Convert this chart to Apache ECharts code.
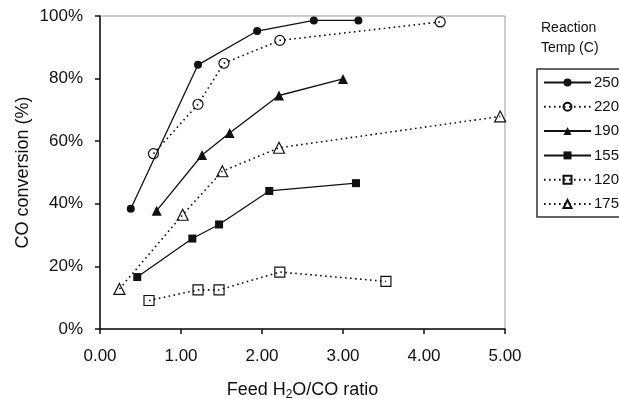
<!DOCTYPE html>
<html>
<head>
<meta charset="utf-8">
<script src="https://cdn.jsdelivr.net/npm/echarts@6/dist/echarts.min.js"></script>
<style>
html,body{margin:0;padding:0;background:#fff;}
#chart{width:619px;height:399px;}
</style>
</head>
<body>
<div id="chart"></div>
<script>
// Data
var seriesNames = ['250', '220', '190', '155', '120', '175'];
var s250 = [[0.38, 38.4], [1.21, 84.4], [1.94, 95.2], [2.64, 98.6], [3.19, 98.6]];
var s220 = [[0.66, 56.0], [1.21, 71.8], [1.53, 84.9], [2.22, 92.2], [4.20, 98.1]];
var s190 = [[0.70, 37.8], [1.26, 55.6], [1.60, 62.6], [2.21, 74.6], [3.00, 79.9]];
var s155 = [[0.46, 16.6], [1.14, 28.9], [1.47, 33.4], [2.09, 44.1], [3.16, 46.6]];
var s120 = [[0.605, 9.1], [1.21, 12.5], [1.47, 12.5], [2.22, 18.2], [3.53, 15.2]];
var s175 = [[0.24, 12.8], [1.02, 36.5], [1.51, 50.4], [2.21, 57.9], [4.94, 67.9]];
var xTicks = [0, 1, 2, 3, 4, 5];
var yTicks = [0, 20, 40, 60, 80, 100];

var FONT = 'Liberation Sans, Arial, Helvetica, sans-serif';
var INK = '#111';
var DOT = [1.6, 3.4];

function mk(name, data, symbol, size, filled, dotted) {
  return {
    name: name,
    type: 'line',
    data: data,
    symbol: symbol,
    symbolSize: size,
    showSymbol: true,
    z: 3,
    lineStyle: { color: INK, width: dotted ? 1.6 : 1.3, type: dotted ? DOT : 'solid' },
    itemStyle: {
      color: filled ? INK : 'rgba(255,255,255,0)',
      borderColor: INK,
      borderWidth: filled ? 0 : 1.2
    },
    emphasis: { disabled: true },
    animation: false
  };
}

var chart = echarts.init(document.getElementById('chart'), null, { renderer: 'canvas' });
chart.setOption({
  backgroundColor: '#fff',
  animation: false,
  textStyle: { fontFamily: FONT },
  title: {
    text: 'Reaction\nTemp (C)',
    left: 541, top: 18,
    padding: 0,
    textStyle: { fontFamily: FONT, fontSize: 14, fontWeight: 'normal', color: INK, lineHeight: 20 }
  },
  legend: {
    orient: 'vertical',
    left: 543, top: 75,
    padding: 0,
    itemWidth: 47, itemHeight: 10,
    itemGap: 9.3,
    data: seriesNames,
    selectedMode: false,
    textStyle: { fontFamily: FONT, fontSize: 15, color: INK, padding: [0, 0, 0, -2] }
  },
  graphic: [{
    type: 'rect',
    shape: { x: 537, y: 69, width: 100, height: 148 },
    style: { fill: 'none', stroke: '#333', lineWidth: 1.5 },
    silent: true, z: 1
  }],
  grid: {
    left: 100, right: 114, top: 16, bottom: 70,
    containLabel: false,
    outerBoundsMode: 'none',
    show: true, borderColor: '#999', borderWidth: 1, backgroundColor: 'transparent'
  },
  xAxis: {
    type: 'value',
    min: xTicks[0], max: xTicks[xTicks.length - 1], interval: 1,
    name: '{a|Feed H}{s|2}{a|O/CO ratio}',
    nameLocation: 'middle', nameGap: 50,
    nameMoveOverlap: false,
    nameTextStyle: {
      rich: {
        a: { fontFamily: FONT, fontSize: 18, color: INK },
        s: { fontFamily: FONT, fontSize: 12, color: INK, verticalAlign: 'bottom', padding: [10, 0, 0, 0] }
      }
    },
    axisLine: { show: true, onZero: false, lineStyle: { color: INK, width: 1.5 } },
    axisTick: { show: true, inside: false, length: 5, lineStyle: { color: INK, width: 1.5 } },
    axisLabel: { fontFamily: FONT, fontSize: 17, color: INK, margin: 19, formatter: function (v) { return v.toFixed(2); } },
    splitLine: { show: false }
  },
  yAxis: {
    type: 'value',
    min: yTicks[0], max: yTicks[yTicks.length - 1], interval: 20,
    name: 'CO conversion (%)',
    nameLocation: 'middle', nameGap: 68,
    nameMoveOverlap: false,
    nameTextStyle: { fontFamily: FONT, fontSize: 18, color: INK },
    axisLine: { show: true, onZero: false, lineStyle: { color: INK, width: 1.5 } },
    axisTick: { show: true, inside: false, length: 5, lineStyle: { color: INK, width: 1.5 } },
    axisLabel: { fontFamily: FONT, fontSize: 17, color: INK, margin: 17, formatter: function (v) { return v + '%'; } },
    splitLine: { show: false }
  },
  series: [
    mk('250', s250, 'circle', 8, true, false),
    mk('220', s220, 'circle', 10, false, true),
    mk('190', s190, 'triangle', 10, true, false),
    mk('155', s155, 'rect', 8, true, false),
    mk('120', s120, 'rect', 10, false, true),
    mk('175', s175, 'triangle', 11, false, true)
  ]
});
</script>
</body>
</html>
